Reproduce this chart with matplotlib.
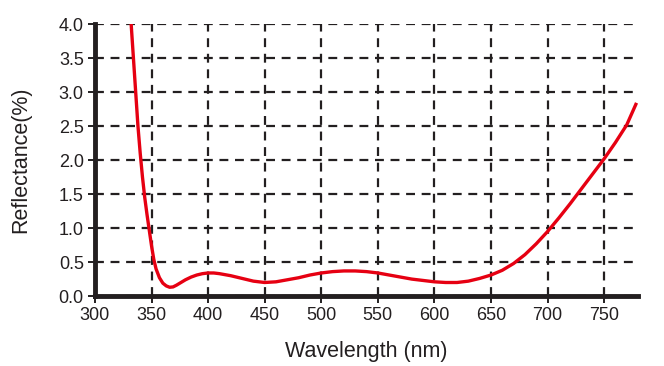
import matplotlib
matplotlib.use('Agg')
import matplotlib.pyplot as plt

plt.rcParams['font.family'] = ['Liberation Sans', 'DejaVu Sans']

wavelength = [332, 334, 336, 338, 340, 342, 344, 346, 348, 350, 352, 354, 357, 360,
              363, 366, 369, 372, 376, 380, 385, 390, 395,
              400, 405, 410, 420, 430, 440, 450, 460, 470, 480, 490, 500, 510, 520, 530,
              540, 550, 560, 570, 580, 590, 600, 610, 620, 630, 640, 650, 660, 670,
              680, 690, 700, 710, 720, 730, 740, 750, 760, 770, 778]
reflectance = [4.0, 3.5, 3.0, 2.5, 2.1, 1.75, 1.45, 1.2, 0.97, 0.74, 0.54, 0.4, 0.27, 0.19,
               0.15, 0.13, 0.135, 0.16, 0.2, 0.24, 0.28, 0.31, 0.33,
               0.34, 0.34, 0.33, 0.3, 0.26, 0.22, 0.2, 0.21, 0.24, 0.27, 0.31, 0.34, 0.36, 0.37, 0.37,
               0.36, 0.34, 0.31, 0.28, 0.25, 0.23, 0.21, 0.2, 0.2, 0.22, 0.26, 0.31, 0.38, 0.48,
               0.61, 0.77, 0.95, 1.15, 1.36, 1.58, 1.8, 2.02, 2.26, 2.52, 2.82]
xticks = [300, 350, 400, 450, 500, 550, 600, 650, 700, 750]
yticks = [0.0, 0.5, 1.0, 1.5, 2.0, 2.5, 3.0, 3.5, 4.0]

fig = plt.figure(figsize=(6.64, 3.66), dpi=100)
ax = fig.add_axes([0.143, 0.191, 0.818, 0.743])

ax.plot(wavelength, reflectance, color='#e60012', lw=2.4, zorder=3,
        solid_joinstyle='round')

ax.set_xlim(300, 780)
ax.set_ylim(0, 4.0)
ax.set_xticks(xticks)
ax.set_yticks(yticks)
ax.set_yticklabels(['%.1f' % v for v in yticks])
ax.grid(True, color='#231f20', ls=(0, (4, 3)), lw=1.6)

for s in ['top', 'right']:
    ax.spines[s].set_visible(False)
for s in ['left', 'bottom']:
    ax.spines[s].set_linewidth(3.5)
    ax.spines[s].set_color('#231f20')

ax.tick_params(direction='out', length=5, width=1.4, color='#231f20',
               labelsize=13, labelcolor='#231f20', pad=3)

ax.set_xlabel('Wavelength (nm)', fontsize=15.5, color='#231f20', labelpad=12)
ax.set_ylabel('Reflectance(%)', fontsize=15.5, color='#231f20', labelpad=20)

fig.savefig('out.png', dpi=100)
